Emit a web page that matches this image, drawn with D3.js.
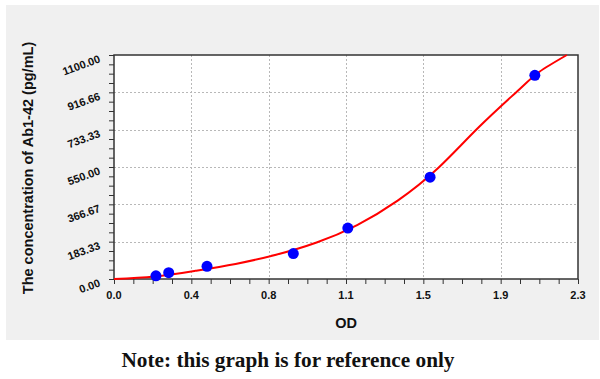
<!DOCTYPE html>
<html>
<head>
<meta charset="utf-8">
<script src="https://cdn.jsdelivr.net/npm/d3@7"></script>
<style>
  html, body { margin: 0; padding: 0; background: #ffffff; }
  svg { display: block; }
</style>
</head>
<body>
<svg id="chart" width="600" height="379"></svg>
<script>
// ---- data ----
const pointOD   = [0.207, 0.270, 0.459, 0.885, 1.154, 1.560, 2.077];
const pointConc = [15.63, 31.25, 62.5, 125, 250, 500, 1000];

const curveOD   = [0, 0.2, 0.4, 0.6, 0.8, 1.0, 1.2, 1.4, 1.6, 1.8, 2.0, 2.1, 2.235];
const curveConc = [0, 12, 40, 74, 119, 179, 265, 385, 545, 745, 931, 1018, 1100];

const xTickLabels = ["0.0", "0.4", "0.8", "1.1", "1.5", "1.9", "2.3"];
const yTickLabels = ["0.00", "183.33", "366.67", "550.00", "733.33", "916.66", "1100.00"];

const xMax = 2.29;
const yMax = 1100;

// ---- layout ----
const svg = d3.select("#chart");
const L = 114, T = 55, R = 578, B = 279;

svg.append("rect").attr("x", 6).attr("y", 5).attr("width", 593).attr("height", 335)
  .attr("fill", "#f0f0f0");

const x = d3.scaleLinear().domain([0, xMax]).range([L, R]);
const y = d3.scaleLinear().domain([0, yMax]).range([B, T]);

svg.append("rect").attr("x", L).attr("y", T).attr("width", R - L).attr("height", B - T)
  .attr("fill", "#ffffff");

const xMajor = d3.range(7).map(i => i * xMax / 6);
const yMajor = d3.range(7).map(i => i * yMax / 6);
const xMinor = d3.range(25).map(i => i * xMax / 24);
const yMinor = d3.range(25).map(i => i * yMax / 24);

// grid
const grid = svg.append("g").attr("stroke", "#b8b8b8").attr("stroke-width", 1)
  .attr("stroke-dasharray", "2,2");
xMajor.slice(1, 6).forEach(v => grid.append("line")
  .attr("x1", Math.round(x(v)) + 0.5).attr("x2", Math.round(x(v)) + 0.5)
  .attr("y1", T).attr("y2", B));
yMajor.slice(1, 6).forEach(v => grid.append("line")
  .attr("y1", Math.round(y(v)) + 0.5).attr("y2", Math.round(y(v)) + 0.5)
  .attr("x1", L).attr("x2", R));

// axes with minor ticks
const xAxis = d3.axisBottom(x).tickValues(xMinor).tickSize(5).tickFormat("");
const yAxis = d3.axisLeft(y).tickValues(yMinor).tickSize(5).tickFormat("");
const gx = svg.append("g").attr("transform", `translate(0,${B})`).call(xAxis);
const gy = svg.append("g").attr("transform", `translate(${L},0)`).call(yAxis);
[gx, gy].forEach(g => {
  g.select(".domain").remove();
  g.selectAll("line").attr("stroke", "#333").attr("stroke-width", 1);
});

// tick labels
svg.append("g").selectAll("text").data(xMajor).join("text")
  .attr("x", d => x(d)).attr("y", B + 20)
  .attr("text-anchor", "middle")
  .attr("font-family", "Liberation Sans, Arial, sans-serif")
  .attr("font-weight", "bold").attr("font-size", 11).attr("fill", "#111")
  .text((d, i) => xTickLabels[i]);

svg.append("g").selectAll("text").data(yMajor).join("text")
  .attr("transform", d => `translate(${L - 13},${y(d) + 7}) rotate(-20)`)
  .attr("text-anchor", "end")
  .attr("font-family", "Liberation Sans, Arial, sans-serif")
  .attr("font-weight", "bold").attr("font-size", 11).attr("fill", "#111")
  .text((d, i) => yTickLabels[i]);

// frame
svg.append("rect").attr("x", L).attr("y", T).attr("width", R - L).attr("height", B - T)
  .attr("fill", "none").attr("stroke", "#333").attr("stroke-width", 1.5);

// curve
const curveData = curveOD.map((d, i) => [d, curveConc[i]]);
const line = d3.line().x(d => x(d[0])).y(d => y(d[1])).curve(d3.curveNatural);
svg.append("path").datum(curveData).attr("d", line)
  .attr("fill", "none").attr("stroke", "#ff0000").attr("stroke-width", 2);

// points
svg.append("g").selectAll("circle").data(pointOD).join("circle")
  .attr("cx", d => x(d)).attr("cy", (d, i) => y(pointConc[i])).attr("r", 5.5)
  .attr("fill", "#0000ff");

// titles
svg.append("text").attr("transform", "translate(33,168) rotate(-90)")
  .attr("text-anchor", "middle")
  .attr("font-family", "Liberation Sans, Arial, sans-serif")
  .attr("font-weight", "bold").attr("font-size", 14.5).attr("fill", "#111")
  .text("The concentration of Ab1-42 (pg/mL)");

svg.append("text").attr("x", (L + R) / 2).attr("y", 328)
  .attr("text-anchor", "middle")
  .attr("font-family", "Liberation Sans, Arial, sans-serif")
  .attr("font-weight", "bold").attr("font-size", 14.5).attr("fill", "#111")
  .text("OD");

svg.append("text").attr("x", 288).attr("y", 367)
  .attr("text-anchor", "middle")
  .attr("font-family", "Liberation Serif, Times New Roman, serif")
  .attr("font-weight", "bold").attr("font-size", 20).attr("fill", "#111")
  .attr("textLength", 333).attr("lengthAdjust", "spacingAndGlyphs")
  .text("Note: this graph is for reference only");
</script>
</body>
</html>
